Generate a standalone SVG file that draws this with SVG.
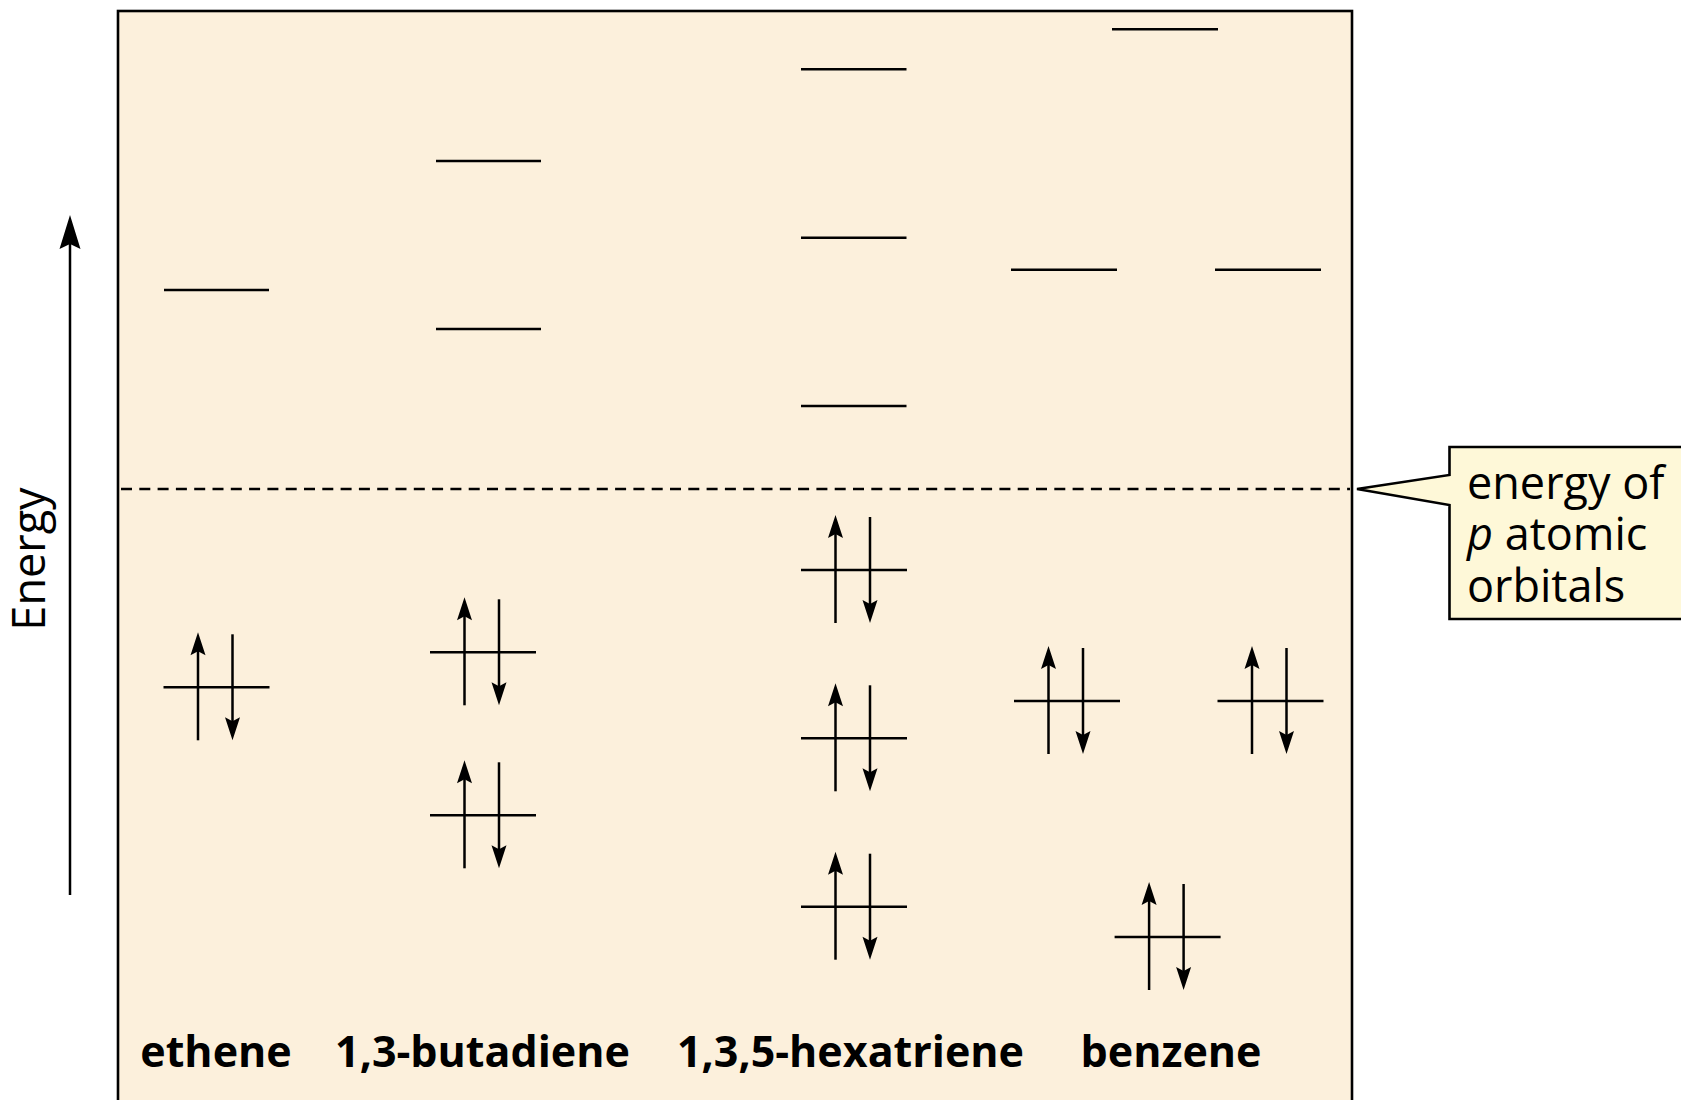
<svg xmlns="http://www.w3.org/2000/svg" xmlns:xlink="http://www.w3.org/1999/xlink" width="1681" height="1100" viewBox="0 0 1681 1100">
<style>
.lvl{stroke:#000;stroke-width:2.6;fill:none}
.ln{stroke:#000;stroke-width:2.5;fill:none}
.hd{fill:#000;stroke:none}
.lab{font-family:"Open Sans","Liberation Sans",sans-serif;font-weight:bold;font-size:43px;fill:#000}
.txt{font-family:"Open Sans","Liberation Sans",sans-serif;font-size:45px;fill:#000}
</style>
<defs>
<g id="pair">
<line class="ln" x1="0" y1="0" x2="106" y2="0"/>
<line class="ln" x1="34.5" y1="53" x2="34.5" y2="-38"/>
<path class="hd" d="M34.5,-55 L42,-32 L34.5,-36 L27,-32 Z"/>
<line class="ln" x1="69" y1="-53" x2="69" y2="37"/>
<path class="hd" d="M69,53 L76.5,30 L69,34 L61.5,30 Z"/>
</g>
</defs>
<rect x="118" y="11" width="1234" height="1100" fill="#FCF0DC" stroke="#000" stroke-width="2.6"/>
<g id="connectors">
<line class="ln" x1="70" y1="895" x2="70" y2="240"/>
<path class="hd" d="M70,215 L80.5,249 L70,244 L59.5,249 Z"/>
<line x1="121" y1="489" x2="1350" y2="489" stroke="#000" stroke-width="2.5" stroke-dasharray="11 7.3"/>
</g>
<g id="energy-label">
<text class="txt" font-size="43" transform="translate(45,559) rotate(-90)" text-anchor="middle">Energy</text>
</g>
<g id="ethene">
<line class="lvl" x1="164" y1="290" x2="269" y2="290"/>
<use xlink:href="#pair" x="163.5" y="687.3"/>
<text class="lab" x="216" y="1067" text-anchor="middle">ethene</text>
</g>
<g id="butadiene">
<line class="lvl" x1="436" y1="161" x2="541" y2="161"/>
<line class="lvl" x1="436" y1="329" x2="541" y2="329"/>
<use xlink:href="#pair" x="430" y="652.3"/>
<use xlink:href="#pair" x="430" y="815.3"/>
<text class="lab" x="482.5" y="1067" text-anchor="middle">1,3-butadiene</text>
</g>
<g id="hexatriene">
<line class="lvl" x1="801" y1="69.3" x2="906.5" y2="69.3"/>
<line class="lvl" x1="801" y1="237.7" x2="906.5" y2="237.7"/>
<line class="lvl" x1="801" y1="406" x2="906.5" y2="406"/>
<use xlink:href="#pair" x="801" y="570"/>
<use xlink:href="#pair" x="801" y="738.3"/>
<use xlink:href="#pair" x="801" y="906.7"/>
<text class="lab" x="850.5" y="1067" text-anchor="middle">1,3,5-hexatriene</text>
</g>
<g id="benzene">
<line class="lvl" x1="1112" y1="29.3" x2="1218" y2="29.3"/>
<line class="lvl" x1="1011" y1="269.7" x2="1117" y2="269.7"/>
<line class="lvl" x1="1215" y1="269.7" x2="1321" y2="269.7"/>
<use xlink:href="#pair" x="1014" y="701"/>
<use xlink:href="#pair" x="1217.5" y="701"/>
<use xlink:href="#pair" x="1114.6" y="937"/>
<text class="lab" x="1171" y="1067" text-anchor="middle">benzene</text>
</g>
<g id="callout">
<path d="M1690,447 L1449.5,447 L1449.5,475 L1357,489 L1449.5,505 L1449.5,619 L1690,619" fill="#FEF8D8" stroke="#000" stroke-width="2.6"/>
<text class="txt" x="1467" y="499">energy of</text>
<text class="txt" x="1467" y="550"><tspan font-style="italic">p</tspan> atomic</text>
<text class="txt" x="1467" y="602">orbitals</text>
</g>
</svg>
